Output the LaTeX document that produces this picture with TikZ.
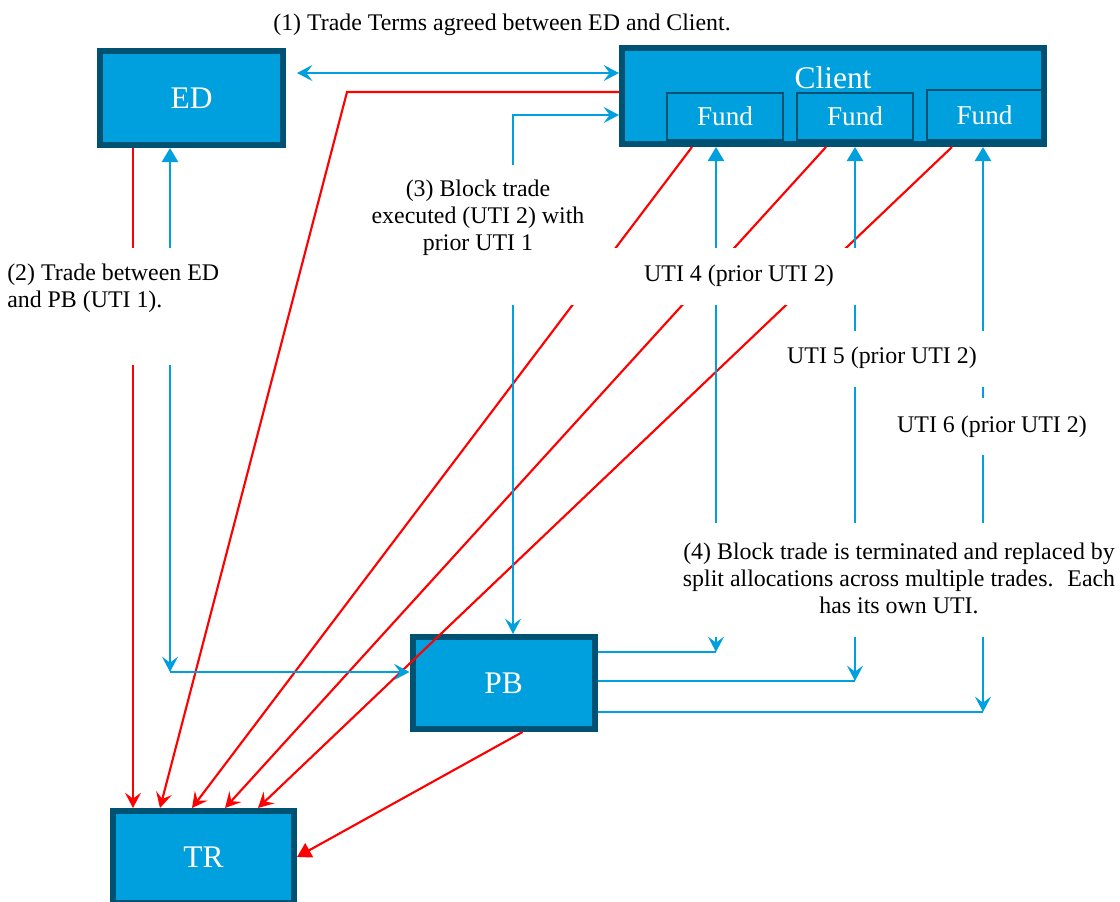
\documentclass[tikz,border=0pt]{standalone}
\usepackage{fontspec}
\setmainfont{Liberation Serif}
\usetikzlibrary{arrows.meta,calc}
\definecolor{boxfill}{RGB}{0,160,222}
\definecolor{boxedge}{RGB}{0,82,115}
\definecolor{lineblue}{RGB}{0,160,222}
\definecolor{linered}{RGB}{255,0,0}
\tikzset{
  Bb/.tip={Stealth[length=11.5pt,width=12pt,inset=4.5pt]},
  Tb/.tip={Triangle[length=10.5pt,width=12pt]},
  bigbox/.style={draw=boxedge, fill=boxfill, line width=4.5pt, text=white,
    font=\fontsize{23.6pt}{26pt}\selectfont, inner sep=0pt},
  fundbox/.style={draw=boxedge, fill=boxfill, line width=1.5pt, text=white,
    font=\fontsize{20.4pt}{23pt}\selectfont, inner sep=0pt},
  lbl/.style={font=\fontsize{17.9pt}{20.3pt}\selectfont, inner sep=0pt, text=black},
  bline/.style={draw=lineblue, line width=1.8pt},
  rline/.style={draw=linered, line width=1.6pt},
  mask/.style={fill=white},
}
\begin{document}
\begin{tikzpicture}[x=0.75pt,y=-0.75pt]
\useasboundingbox (0,0) rectangle (1120,901);

% boxes
\node[bigbox, minimum width=137.25pt, minimum height=70.5pt] (ED) at (191.5,98) {ED};
\node[bigbox, minimum width=316.5pt, minimum height=72pt] (Client) at (833,96) {};
\node[fundbox, minimum width=87pt, minimum height=35.25pt] (F1) at (725,116.5) {\raisebox{-1.5pt}{Fund}};
\node[fundbox, minimum width=87pt, minimum height=35.25pt] (F2) at (855,116.5) {\raisebox{-1.5pt}{Fund}};
\node[fundbox, minimum width=86.25pt, minimum height=37.5pt] (F3) at (984.5,115) {Fund};
\node[text=white, font=\fontsize{23.6pt}{26pt}\selectfont, inner sep=0pt] (ClientText) at (833,78) {Client};
\node[bigbox, minimum width=136.5pt, minimum height=69pt] (PB) at (503.5,683) {PB};
\node[bigbox, minimum width=135.75pt, minimum height=69pt] (TR) at (203.5,857) {TR};

% coordinates
\coordinate (c1a) at (297,73);
\coordinate (rc) at (347,92);
\coordinate (c3) at (513,115);
\coordinate (c2) at (170,672);
\coordinate (c41) at (716,652);
\coordinate (c51) at (855,681);
\coordinate (c61) at (983,712);

% red connectors to TR
\draw[rline,-Bb] ($(ED.south west)+(36,0)$) -- ($(TR.north west)+(23,0)$);
\draw[rline,-Bb] (Client.west |- rc) -- (rc) -- ($(TR.north west)+(50,0)$);
\draw[rline,-Bb] ($(Client.south west)+(73,0)$) -- ($(TR.north west)+(82,0)$);
\draw[rline,-Bb] ($(Client.south west)+(207,0)$) -- ($(TR.north west)+(115,0)$);
\draw[rline,-Bb] ($(Client.south west)+(333,0)$) -- ($(TR.north west)+(148,0)$);
\draw[rline,-Tb] ($(PB.south west)+(113,0)$) -- (TR.east);

% blue connectors
\draw[bline,Bb-Bb] (c1a) -- (Client.west |- c1a);
\draw[bline,Bb-Bb] (Client.west |- c3) -- (c3) -- (PB.north -| c3);
\draw[bline,Tb-Bb] (ED.south -| c2) -- (c2);
\draw[bline,-Bb] (c2) -- (PB.west |- c2);
\draw[bline,Tb-Bb] (Client.south -| c41) -- (c41);
\draw[bline,Tb-Bb] (Client.south -| c51) -- (c51);
\draw[bline,Tb-Bb] (Client.south -| c61) -- (c61);
\draw[bline] (PB.east |- c41) -- (c41);
\draw[bline] (PB.east |- c51) -- (c51);
\draw[bline] (PB.east |- c61) -- (c61);

% white label backgrounds
\fill[mask] (0,248) rectangle (240,365);
\fill[mask] (362,165) rectangle (602,305);
\fill[mask] (600,248) rectangle (862,305);
\fill[mask] (780,331) rectangle (992,387);
\fill[mask] (890,398) rectangle (1100,455);
\fill[mask] (675,523) rectangle (1118,637);

% labels
\node[lbl] (L1) at (502,25) {(1) Trade Terms agreed between ED and Client.};
\node[lbl, align=left, anchor=west] (L2) at (7,288.5) {(2) Trade between ED\\and PB (UTI 1).};
\node[lbl, align=center] (L3) at (478,218) {(3) Block trade\\executed (UTI 2) with\\prior UTI 1};
\node[lbl] (L4) at (739,276) {UTI 4 (prior UTI 2)};
\node[lbl] (L5) at (882,358) {UTI 5 (prior UTI 2)};
\node[lbl] (L6) at (992,427) {UTI 6 (prior UTI 2)};
\node[lbl, align=center] (L7) at (899,578) {(4) Block trade is terminated and replaced by\\split allocations across multiple trades.~ Each\\has its own UTI.};
\end{tikzpicture}
\end{document}
